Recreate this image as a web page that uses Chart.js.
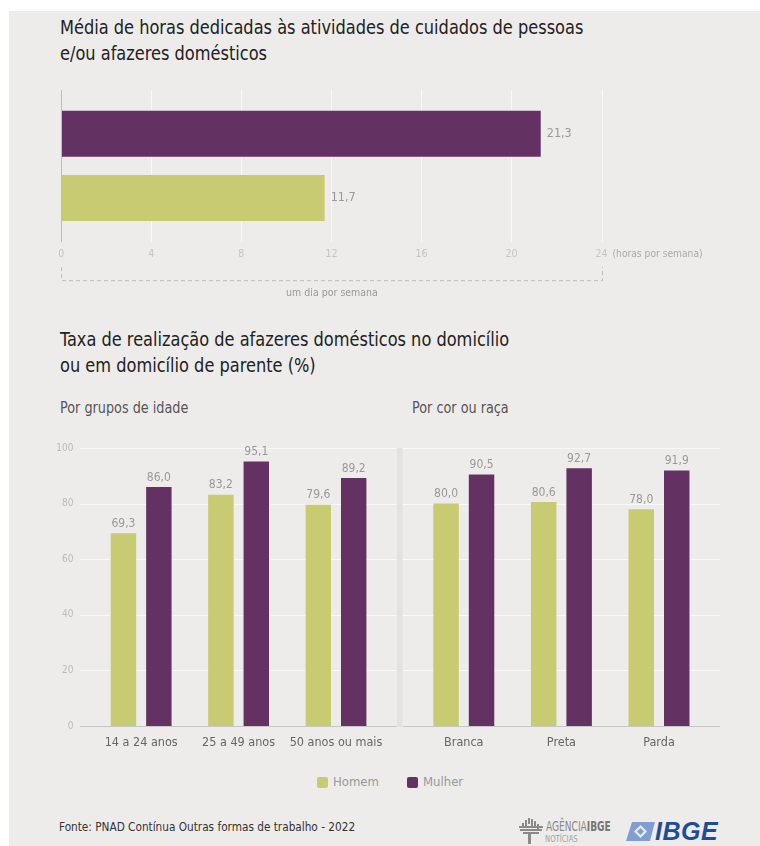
<!DOCTYPE html>
<html lang="pt-BR">
<head>
<meta charset="utf-8">
<title>Afazeres domésticos - PNAD Contínua 2022</title>
<script src="https://cdn.jsdelivr.net/npm/chart.js@4.4.1/dist/chart.umd.min.js"></script>
<style>
  body {
    margin: 0;
    width: 760px;
    height: 846px;
    overflow: hidden;
    background: #fff;
    font-family: 'DejaVu Sans Condensed', 'DejaVu Sans', sans-serif;
    position: relative;
  }
  #painel {
    position: absolute;
    left: 9px;
    top: 11px;
    right: 0;
    bottom: 0;
    background: #edecea;
  }
  .abs { position: absolute; white-space: nowrap; transform-origin: 0 0; }
  .titulo {
    left: 60px;
    font-size: 20px;
    line-height: 26px;
    color: #222;
    transform: scaleX(0.9);
  }
  .subtitulo {
    font-size: 15px;
    line-height: 18px;
    color: #555;
    transform: scaleX(0.95);
  }
  .legenda {
    top: 774px;
    font-size: 13px;
    line-height: 16px;
    color: #999;
    display: flex;
    align-items: center;
  }
  .legenda span.cor {
    display: inline-block;
    width: 11px;
    height: 11px;
    border-radius: 2px;
    margin-right: 5px;
  }
  #fonte {
    left: 59px;
    top: 819px;
    font-size: 13px;
    line-height: 16px;
    color: #333;
    transform: scaleX(0.9);
  }
  canvas { position: absolute; }
</style>
</head>
<body>
<div id="painel"></div>

<div class="abs titulo" style="top:14px">Média de horas dedicadas às atividades de cuidados de pessoas<br>e/ou afazeres domésticos</div>
<div class="abs titulo" style="top:326px">Taxa de realização de afazeres domésticos no domicílio<br>ou em domicílio de parente (%)</div>
<div class="abs subtitulo" style="left:60px; top:399px">Por grupos de idade</div>
<div class="abs subtitulo" style="left:412px; top:399px">Por cor ou raça</div>

<canvas id="horas" width="760" height="230" style="left:0; top:80px"></canvas>
<canvas id="idade" width="400" height="330" style="left:0; top:430px"></canvas>
<canvas id="raca" width="370" height="330" style="left:390px; top:430px"></canvas>

<div class="abs legenda" style="left:317px"><span class="cor" style="background:#c9cb73"></span>Homem</div>
<div class="abs legenda" style="left:407px"><span class="cor" style="background:#643163"></span>Mulher</div>

<div class="abs" id="fonte">Fonte: PNAD Contínua Outras formas de trabalho - 2022</div>

<!-- marcas da Agência IBGE Notícias e do IBGE -->
<svg class="abs" style="left:519px; top:817px" width="24" height="27" viewBox="0 0 24 27">
  <g fill="#8a8a8a">
    <rect x="9" y="1" width="2" height="6"/>
    <rect x="12" y="2" width="2" height="8"/>
    <rect x="6" y="3" width="2" height="7"/>
    <rect x="15" y="4" width="2" height="7"/>
    <rect x="3" y="6" width="2" height="5"/>
    <rect x="18" y="7" width="2" height="5"/>
    <rect x="0" y="9" width="24" height="2"/>
    <rect x="1" y="12" width="22" height="2"/>
    <rect x="4" y="15" width="16" height="2"/>
    <rect x="9" y="17" width="3" height="10"/>
  </g>
</svg>
<div class="abs" style="left:546px; top:819px; font-size:14px; line-height:15px; color:#8a8a8a; transform:scaleX(0.72)">AGÊNCIA<b style="color:#777">IBGE</b></div>
<div class="abs" style="left:545px; top:834px; font-size:9px; line-height:10px; color:#a0a0a0; transform:scaleX(0.85)">NOTÍCIAS</div>
<svg class="abs" style="left:626px; top:822px" width="30" height="19" viewBox="0 0 30 19">
  <path d="M6 0 H29 L24 19 H0 Z" fill="#7f9fd4"/>
  <path d="M14.5 3 L21 9.5 L14.5 16 L8 9.5 Z" fill="#edecea"/>
  <path d="M14.5 6 L18 9.5 L14.5 13 L11 9.5 Z" fill="#7f9fd4"/>
</svg>
<div class="abs" style="left:655px; top:817px; font-size:25px; line-height:28px; font-weight:bold; font-style:italic; color:#1f4c96; font-family:'Liberation Sans', Arial, sans-serif; letter-spacing:0.5px">IBGE</div>

<script>
// Média de horas semanais em cuidados/afazeres
const horasCategorias = ['Mulher', 'Homem'];
const horasValores = [21.3, 11.7];

// Taxa de realização por grupos de idade (%)
const idadeCategorias = ['14 a 24 anos', '25 a 49 anos', '50 anos ou mais'];
const idadeHomem = [69.3, 83.2, 79.6];
const idadeMulher = [86.0, 95.1, 89.2];

// Taxa de realização por cor ou raça (%)
const racaCategorias = ['Branca', 'Preta', 'Parda'];
const racaHomem = [80.0, 80.6, 78.0];
const racaMulher = [90.5, 92.7, 91.9];

const corHomem = '#c9cb73';
const corMulher = '#643163';
const corGrade = '#f8f8f7';
const corEixo = '#c6c6c6';
const fonte = "'DejaVu Sans Condensed', 'DejaVu Sans', sans-serif";

Chart.defaults.font.family = fonte;
Chart.defaults.animation = false;

const formata = v => v.toFixed(1).replace('.', ',');

// grade estendida além da área do gráfico
const gradeExtendida = {
    id: 'gradeExtendida',
    beforeDatasetsDraw(chart, args, opts) {
        const { ctx, chartArea } = chart;
        ctx.save();
        ctx.lineWidth = 1;
        if (opts.horizontal) {
            const x = chart.scales.x;
            x.ticks.forEach(t => {
                if (t.value === 0) return;
                const px = Math.round(x.getPixelForValue(t.value)) + 0.5;
                ctx.strokeStyle = corGrade;
                ctx.beginPath();
                ctx.moveTo(px, chartArea.top - opts.antes);
                ctx.lineTo(px, chartArea.bottom + opts.depois);
                ctx.stroke();
            });
        } else {
            const y = chart.scales.y;
            if (opts.separador) {
                ctx.fillStyle = '#e3e2e0';
                ctx.fillRect(chartArea.left - opts.antes - 6, y.getPixelForValue(100),
                    5.5, y.getPixelForValue(0) - y.getPixelForValue(100) + 1);
            }
            y.ticks.forEach(t => {
                const py = Math.round(y.getPixelForValue(t.value)) + 0.5;
                ctx.strokeStyle = t.value === 0 ? corEixo : corGrade;
                ctx.beginPath();
                ctx.moveTo(chartArea.left - opts.antes, py);
                ctx.lineTo(chartArea.right + opts.depois, py);
                ctx.stroke();
            });
        }
        ctx.restore();
    },
    afterDatasetsDraw(chart, args, opts) {
        if (!opts.horizontal) return;
        // linha do zero e colchete "um dia por semana"
        const { ctx, chartArea } = chart;
        const x = chart.scales.x;
        const x0 = Math.round(x.getPixelForValue(0)) + 0.5;
        const x24 = Math.round(x.getPixelForValue(24)) + 0.5;
        ctx.save();
        ctx.strokeStyle = '#bdbdbd';
        ctx.lineWidth = 1;
        ctx.beginPath();
        ctx.moveTo(x0, chartArea.top - opts.antes);
        ctx.lineTo(x0, chartArea.bottom + opts.depois);
        ctx.stroke();

        const topo = chartArea.bottom + 37;
        const base = chartArea.bottom + 50;
        ctx.setLineDash([4, 3]);
        ctx.beginPath();
        ctx.moveTo(x0, topo);
        ctx.lineTo(x0, base + 0.5);
        ctx.lineTo(x24, base + 0.5);
        ctx.lineTo(x24, topo);
        ctx.stroke();
        ctx.setLineDash([]);

        ctx.fillStyle = '#999';
        ctx.font = '10.5px ' + fonte;
        ctx.textAlign = 'center';
        ctx.textBaseline = 'middle';
        ctx.fillText('um dia por semana', (x0 + x24) / 2, base + 13);

        ctx.fillStyle = '#aaa';
        ctx.font = '10.2px ' + fonte;
        ctx.textAlign = 'left';
        ctx.fillText('(horas por semana)', x24 + 10, chartArea.bottom + 24);
        ctx.restore();
    }
};

// valores escritos junto das barras
const rotulos = {
    id: 'rotulos',
    afterDatasetsDraw(chart) {
        const { ctx } = chart;
        const horizontal = chart.options.indexAxis === 'y';
        ctx.save();
        ctx.font = (horizontal ? '12.5px ' : '12px ') + fonte;
        ctx.fillStyle = '#999';
        ctx.textBaseline = 'middle';
        chart.data.datasets.forEach((ds, i) => {
            chart.getDatasetMeta(i).data.forEach((bar, j) => {
                const texto = formata(ds.data[j]);
                if (horizontal) {
                    ctx.textAlign = 'left';
                    ctx.fillText(texto, bar.x + 6, bar.y);
                } else {
                    ctx.textAlign = 'center';
                    ctx.fillText(texto, bar.x, bar.y - 9.5);
                }
            });
        });
        ctx.restore();
    }
};

// acerta o padding para que a área de plotagem fique na posição desejada
function fixaArea(chart, alvo) {
    for (let i = 0; i < 3; i++) {
        const a = chart.chartArea;
        const p = chart.options.layout.padding;
        p.left += alvo.left - a.left;
        p.top += alvo.top - a.top;
        p.right += a.right - alvo.right;
        p.bottom += a.bottom - alvo.bottom;
        chart.update();
    }
}

const horasChart = new Chart(document.getElementById('horas'), {
    type: 'bar',
    data: {
        labels: horasCategorias,
        datasets: [{
            data: horasValores,
            backgroundColor: [corMulher, corHomem],
            barPercentage: 0.715,
            categoryPercentage: 1
        }]
    },
    options: {
        indexAxis: 'y',
        responsive: false,
        layout: { autoPadding: false, padding: { left: 61, right: 158, top: 21, bottom: 50 } },
        plugins: {
            legend: { display: false },
            tooltip: { enabled: false },
            gradeExtendida: { horizontal: true, antes: 11.6, depois: 11.9 }
        },
        scales: {
            x: {
                min: 0,
                max: 24,
                grid: { display: false, drawTicks: false },
                border: { display: false },
                ticks: { stepSize: 4, color: '#c4c4c4', font: { size: 10.5 }, padding: 17.5 }
            },
            y: { display: false }
        }
    },
    plugins: [gradeExtendida, rotulos]
});
fixaArea(horasChart, { left: 61.3, right: 601.5, top: 21.55, bottom: 150.15 });

function taxaChart(id, categorias, homem, mulher, extra) {
    const y = {
        display: extra.eixoY,
        min: 0,
        max: 100,
        grid: { display: false, drawTicks: false },
        border: { display: false },
        ticks: { stepSize: 20, color: '#bbb', font: { size: 10 }, padding: 19 }
    };
    if (extra.eixoY) {
        y.afterFit = scale => {
            scale.width = 92.45;
            scale.paddingTop = 0;
            scale.paddingBottom = 0;
        };
    }

    const chart = new Chart(document.getElementById(id), {
        type: 'bar',
        data: {
            labels: categorias,
            datasets: [
                { label: 'Homem', data: homem, backgroundColor: corHomem },
                { label: 'Mulher', data: mulher, backgroundColor: corMulher }
            ]
        },
        options: {
            responsive: false,
            datasets: { bar: { barPercentage: 0.718, categoryPercentage: 0.727 } },
            layout: { autoPadding: false, padding: extra.padding },
            plugins: {
                legend: { display: false },
                tooltip: { enabled: false },
                gradeExtendida: extra.grade
            },
            scales: {
                x: {
                    grid: { display: false, drawTicks: false },
                    border: { display: false },
                    ticks: { color: '#666', font: { size: 12.5 }, padding: 9.2, maxRotation: 0, autoSkip: false }
                },
                y: y
            }
        },
        plugins: [gradeExtendida, rotulos]
    });
    fixaArea(chart, extra.area);
    return chart;
}

taxaChart('idade', idadeCategorias, idadeHomem, idadeMulher, {
    eixoY: true,
    padding: { left: 0, right: 15, top: 18, bottom: 9 },
    grade: { antes: 12.45, depois: 12 },
    area: { left: 92.45, right: 384.7, top: 18, bottom: 296 }
});

taxaChart('raca', racaCategorias, racaHomem, racaMulher, {
    eixoY: false,
    padding: { left: 25, right: 52, top: 18, bottom: 9 },
    grade: { antes: 12, depois: 12.2, separador: true },
    area: { left: 25, right: 317.8, top: 18, bottom: 296 }
});
</script>
</body>
</html>
